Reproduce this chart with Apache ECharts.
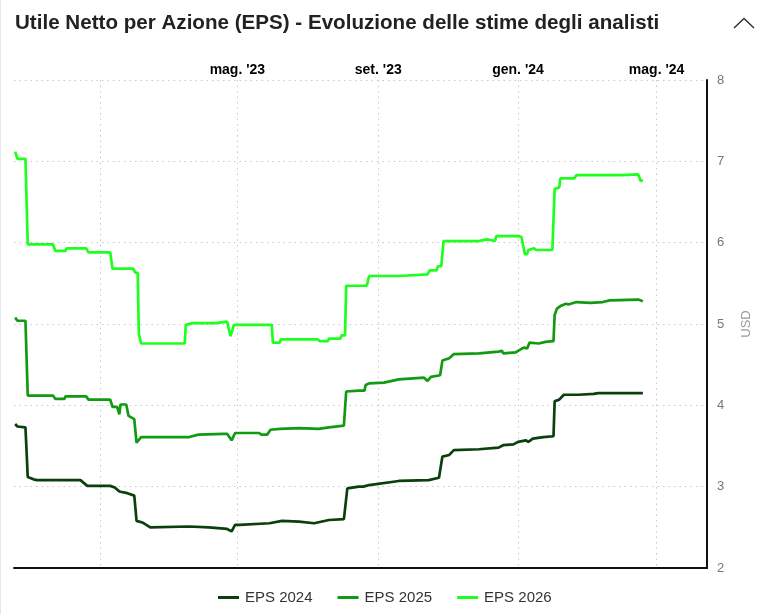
<!DOCTYPE html>
<html lang="it">
<head>
  <meta charset="UTF-8">
  <title>Utile Netto per Azione (EPS)</title>
  <script src="https://cdn.jsdelivr.net/npm/echarts@6/dist/echarts.min.js"></script>
  <style>
    html, body { margin: 0; padding: 0; background: #fff; }
  </style>
</head>
<body>
<div id="main" style="width: 761px;height:614px;"></div>
<script>
  // stime EPS: [data, valore in USD]
  var eps2024 = [
    ['2022-10-19', 3.77], ['2022-10-21', 3.74], ['2022-10-28', 3.73], ['2022-10-30', 3.12],
    ['2022-11-04', 3.09], ['2022-11-07', 3.08], ['2022-12-15', 3.08], ['2022-12-21', 3.01],
    ['2023-01-10', 3.01], ['2023-01-14', 2.99], ['2023-01-18', 2.94], ['2023-01-25', 2.92],
    ['2023-01-31', 2.89], ['2023-02-02', 2.58], ['2023-02-07', 2.56], ['2023-02-14', 2.50],
    ['2023-03-20', 2.51], ['2023-04-06', 2.50], ['2023-04-22', 2.48], ['2023-04-26', 2.45],
    ['2023-04-29', 2.53], ['2023-05-03', 2.53], ['2023-05-29', 2.55], ['2023-06-09', 2.58],
    ['2023-06-24', 2.57], ['2023-07-07', 2.55], ['2023-07-20', 2.59], ['2023-08-02', 2.60],
    ['2023-08-05', 2.98], ['2023-08-15', 3.00], ['2023-08-19', 3.00], ['2023-08-24', 3.02],
    ['2023-09-19', 3.07], ['2023-10-15', 3.08], ['2023-10-24', 3.11], ['2023-10-27', 3.37],
    ['2023-11-02', 3.39], ['2023-11-06', 3.45], ['2023-11-28', 3.46], ['2023-12-15', 3.48],
    ['2023-12-19', 3.51], ['2023-12-28', 3.52], ['2024-01-01', 3.55], ['2024-01-08', 3.57],
    ['2024-01-10', 3.55], ['2024-01-14', 3.59], ['2024-01-23', 3.61], ['2024-02-01', 3.62],
    ['2024-02-02', 4.05], ['2024-02-06', 4.07], ['2024-02-10', 4.13], ['2024-02-23', 4.13],
    ['2024-03-07', 4.14], ['2024-03-11', 4.15], ['2024-04-19', 4.15]
  ];

  var eps2025 = [
    ['2022-10-19', 5.08], ['2022-10-21', 5.04], ['2022-10-28', 5.04], ['2022-10-30', 4.12],
    ['2022-11-21', 4.12], ['2022-11-23', 4.08], ['2022-12-01', 4.08], ['2022-12-02', 4.11],
    ['2022-12-20', 4.11], ['2022-12-22', 4.07], ['2023-01-10', 4.07], ['2023-01-12', 3.98],
    ['2023-01-16', 3.98], ['2023-01-18', 3.89], ['2023-01-19', 4.01], ['2023-01-24', 4.01],
    ['2023-01-26', 3.87], ['2023-01-31', 3.83], ['2023-02-02', 3.54], ['2023-02-06', 3.61],
    ['2023-03-20', 3.61], ['2023-03-28', 3.64], ['2023-04-19', 3.65], ['2023-04-22', 3.65],
    ['2023-04-26', 3.57], ['2023-04-29', 3.66], ['2023-05-20', 3.66], ['2023-05-22', 3.64],
    ['2023-05-27', 3.64], ['2023-05-30', 3.70], ['2023-06-07', 3.71], ['2023-06-24', 3.72],
    ['2023-07-11', 3.71], ['2023-07-20', 3.73], ['2023-08-02', 3.75], ['2023-08-04', 4.17],
    ['2023-08-15', 4.18], ['2023-08-20', 4.18], ['2023-08-21', 4.25], ['2023-08-24', 4.27],
    ['2023-09-06', 4.28], ['2023-09-19', 4.32], ['2023-10-11', 4.34], ['2023-10-14', 4.30],
    ['2023-10-17', 4.35], ['2023-10-25', 4.37], ['2023-10-27', 4.55], ['2023-11-02', 4.58],
    ['2023-11-06', 4.63], ['2023-11-28', 4.64], ['2023-12-15', 4.66], ['2023-12-18', 4.67],
    ['2023-12-19', 4.64], ['2023-12-30', 4.65], ['2024-01-01', 4.67], ['2024-01-06', 4.71],
    ['2024-01-09', 4.70], ['2024-01-11', 4.77], ['2024-01-19', 4.76], ['2024-01-25', 4.78],
    ['2024-02-01', 4.79], ['2024-02-02', 5.11], ['2024-02-04', 5.19], ['2024-02-07', 5.22],
    ['2024-02-12', 5.25], ['2024-02-14', 5.24], ['2024-02-21', 5.27], ['2024-03-04', 5.26],
    ['2024-03-15', 5.27], ['2024-03-21', 5.29], ['2024-04-15', 5.30], ['2024-04-19', 5.28]
  ];

  var eps2026 = [
    ['2022-10-19', 7.12], ['2022-10-21', 7.03], ['2022-10-28', 7.03], ['2022-10-30', 5.98],
    ['2022-11-21', 5.98], ['2022-11-23', 5.90], ['2022-12-02', 5.90], ['2022-12-03', 5.93],
    ['2022-12-20', 5.93], ['2022-12-22', 5.88], ['2023-01-10', 5.88], ['2023-01-12', 5.68],
    ['2023-01-30', 5.68], ['2023-02-01', 5.63], ['2023-02-03', 5.63], ['2023-02-04', 4.88],
    ['2023-02-06', 4.76], ['2023-03-16', 4.76], ['2023-03-17', 4.99], ['2023-03-23', 5.01],
    ['2023-04-12', 5.01], ['2023-04-13', 5.03], ['2023-04-22', 5.03], ['2023-04-25', 4.85],
    ['2023-04-28', 4.99], ['2023-05-31', 4.99], ['2023-06-01', 4.77], ['2023-06-07', 4.77],
    ['2023-06-08', 4.81], ['2023-07-10', 4.81], ['2023-07-12', 4.79], ['2023-07-19', 4.79],
    ['2023-07-20', 4.82], ['2023-07-30', 4.82], ['2023-07-31', 4.86], ['2023-08-03', 4.86],
    ['2023-08-04', 5.47], ['2023-08-22', 5.47], ['2023-08-24', 5.59], ['2023-09-19', 5.59],
    ['2023-09-20', 5.61], ['2023-10-14', 5.61], ['2023-10-16', 5.66], ['2023-10-22', 5.66],
    ['2023-10-23', 5.71], ['2023-10-26', 5.71], ['2023-10-28', 6.02], ['2023-11-28', 6.02],
    ['2023-11-29', 6.04], ['2023-12-05', 6.04], ['2023-12-06', 6.02], ['2023-12-12', 6.02],
    ['2023-12-13', 6.08], ['2024-01-02', 6.08], ['2024-01-04', 6.07], ['2024-01-07', 5.86],
    ['2024-01-09', 5.86], ['2024-01-10', 5.91], ['2024-01-15', 5.93], ['2024-01-17', 5.91],
    ['2024-01-31', 5.91], ['2024-02-01', 5.93], ['2024-02-02', 6.66], ['2024-02-06', 6.68],
    ['2024-02-07', 6.79], ['2024-02-19', 6.79], ['2024-02-21', 6.83], ['2024-03-31', 6.83],
    ['2024-04-01', 6.84], ['2024-04-15', 6.84], ['2024-04-17', 6.76], ['2024-04-19', 6.77]
  ];

  var seriesNames = ['EPS 2024', 'EPS 2025', 'EPS 2026'];
  var seriesColors = ['#0b3f0b', '#129a12', '#1eff1e'];

  var axisStart = '2022-10-18';
  var axisEnd = '2024-06-14';
  var gridDates = ['2023-01-01', '2023-05-01', '2023-09-01', '2024-01-01', '2024-05-01'];
  var labelDates = ['2023-05-01', '2023-09-01', '2024-01-01', '2024-05-01'];
  var monthNames = ['gen', 'feb', 'mar', 'apr', 'mag', 'giu', 'lug', 'ago', 'set', 'ott', 'nov', 'dic'];

  var fontFamily = 'Liberation Sans, Arial, sans-serif';

  function ts(s) {
    var p = s.split('-');
    return Date.UTC(+p[0], +p[1] - 1, +p[2]);
  }

  function toPoints(list) {
    return list.map(function (d) { return [ts(d[0]), d[1]]; });
  }

  var myChart = echarts.init(document.getElementById('main'));

  var xMin = ts(axisStart);
  var xMax = ts(axisEnd);

  option = {
    animation: false,
    textStyle: { fontFamily: fontFamily },
    title: {
      text: 'Utile Netto per Azione (EPS) - Evoluzione delle stime degli analisti',
      left: 10,
      top: 8,
      textStyle: {
        fontSize: 20.6,
        fontWeight: 'bold',
        color: '#222',
        fontFamily: fontFamily
      }
    },
    legend: {
      bottom: 4,
      left: 213,
      icon: 'rect',
      itemWidth: 21,
      itemHeight: 3,
      itemGap: 25,
      textStyle: { fontSize: 15, color: '#333', fontFamily: fontFamily, padding: [0, 0, 0, 1] },
      data: seriesNames
    },
    graphic: [{
      type: 'polyline',
      shape: { points: [[734, 28], [744, 18.5], [754, 28]] },
      style: { stroke: '#333', lineWidth: 1.5, fill: null }
    }, {
      type: 'line',
      shape: { x1: 0.5, y1: 0, x2: 0.5, y2: 614 },
      style: { stroke: '#e6e6e6', lineWidth: 1 }
    }],
    grid: {
      left: 14,
      right: 52,
      top: 80,
      bottom: 46
    },
    xAxis: [{
      type: 'value',
      position: 'top',
      min: xMin,
      max: xMax,
      axisLine: { show: false },
      axisTick: { show: false, customValues: gridDates.map(ts) },
      axisLabel: {
        customValues: labelDates.map(ts),
        margin: 3,
        color: '#000',
        fontSize: 14,
        fontWeight: 'bold',
        fontFamily: fontFamily,
        formatter: function (v) {
          var d = new Date(v);
          return monthNames[d.getUTCMonth()] + ". '" + String(d.getUTCFullYear()).slice(2);
        }
      },
      splitLine: {
        show: true,
        lineStyle: { color: '#c8c8c8', type: [1.5, 4], width: 1 }
      }
    }, {
      type: 'value',
      position: 'bottom',
      min: xMin,
      max: xMax,
      axisLine: { show: true, lineStyle: { color: '#111', width: 2 } },
      axisTick: { show: false },
      axisLabel: { show: false },
      splitLine: { show: false }
    }],
    yAxis: {
      type: 'value',
      position: 'right',
      min: 2,
      max: 8,
      interval: 1,
      name: 'USD',
      nameLocation: 'middle',
      nameRotate: 90,
      nameGap: 33,
      nameTextStyle: { color: '#999', fontSize: 13, fontFamily: fontFamily },
      axisLine: { show: true, lineStyle: { color: '#111', width: 2 } },
      axisTick: { show: false },
      axisLabel: { color: '#777', fontSize: 13, margin: 10, fontFamily: fontFamily },
      splitLine: {
        show: true,
        lineStyle: { color: '#c8c8c8', type: [1.5, 4], width: 1 }
      }
    },
    series: [
      {
        name: seriesNames[0],
        type: 'line',
        showSymbol: false,
        color: seriesColors[0],
        lineStyle: { width: 2.7 },
        data: toPoints(eps2024)
      },
      {
        name: seriesNames[1],
        type: 'line',
        showSymbol: false,
        color: seriesColors[1],
        lineStyle: { width: 2.7 },
        data: toPoints(eps2025)
      },
      {
        name: seriesNames[2],
        type: 'line',
        showSymbol: false,
        color: seriesColors[2],
        lineStyle: { width: 2.7 },
        data: toPoints(eps2026)
      }
    ]
  };

  myChart.setOption(option);
</script>
</body>
</html>
